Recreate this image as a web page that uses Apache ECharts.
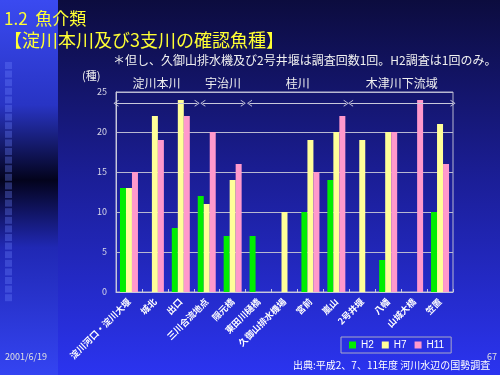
<!DOCTYPE html>
<html><head><meta charset="utf-8">
<script src="https://cdn.jsdelivr.net/npm/echarts@6/dist/echarts.min.js"></script>
<style>html,body{margin:0;padding:0;background:#1a1d92}#c{width:500px;height:375px}</style>
</head><body><div id="c"></div>
<script>
var categories = ['淀川河口・淀川大堰','城北','出口','三川合流地点','隠元橋','東田川樋橋','久御山排水機場','宮前','嵐山','2号井堰','八幡','山城大橋','笠置'];
var h2  = [13, null, 8, 12, 7, 7, null, 10, 14, null, 4, null, 10];
var h7  = [13, 22, 24, 11, 14, null, 10, 19, 20, 19, 20, null, 21];
var h11 = [15, 19, 22, 20, 16, null, null, 15, 22, null, 20, 24, 16];
var yTicks = [0, 5, 10, 15, 20, 25];
// river segment annotations (category units)
var segNames = ['淀川本川','宇治川','桂川','木津川下流域'];
var segStart = [0, 3.35, 5.15, 9.05];
var segEnd   = [3.13, 4.91, 8.88, 13];
var segLevel = 23.6;

var chart = echarts.init(document.getElementById('c'), null, {renderer:'canvas'});
var FONT = '"Noto Sans CJK JP", "Noto Sans", sans-serif';
var squares = [];
for (var i = 0; i < 28; i++) {
  squares.push({type:'rect', shape:{x:5, y:62 + i*8.6, width:7, height:7}, style:{fill:'rgba(110,130,255,0.33)'}, silent:true});
}
var chevron = 'path://M5,0 L10,10 L8.6,10 L5,2.6 L1.4,10 L0,10 Z';
var mlData = [];
for (var k = 0; k < segNames.length; k++) {
  mlData.push([{coord:[segStart[k], segLevel], name: segNames[k]}, {coord:[segEnd[k], segLevel]}]);
}
chart.setOption({
  animation:false,
  textStyle:{fontFamily:FONT},
  graphic:[
    {type:'rect', z:-10, shape:{x:0,y:0,width:500,height:375}, style:{fill:new echarts.graphic.LinearGradient(0,0,0,1,[{offset:0,color:'#0c0c3e'},{offset:0.45,color:'#1a1d92'},{offset:1,color:'#2b34f0'}])}, silent:true},
    {type:'rect', z:-9, shape:{x:0,y:0,width:58,height:375}, style:{fill:new echarts.graphic.LinearGradient(0,0,0,1,[{offset:0,color:'#3a4af0'},{offset:0.28,color:'#2834c4'},{offset:0.48,color:'#03031c'},{offset:0.66,color:'#2028b4'},{offset:1,color:'#3444f2'}])}, silent:true},
    {type:'group', z:-8, children: squares},
    {type:'text', left:4, top:10, style:{text:'1.2  魚介類', fill:'#ffff33', font:'17px '+FONT}},
    {type:'text', left:4, top:31, style:{text:'【淀川本川及び3支川の確認魚種】', fill:'#ffff33', font:'18px '+FONT}},
    {type:'text', left:113, top:54, style:{text:'＊但し、久御山排水機及び2号井堰は調査回数1回。H2調査は1回のみ。', fill:'#f0f0f0', font:'12px '+FONT}},
    {type:'text', left:82, top:70, style:{text:'(種)', fill:'#f0f0f0', font:'11px '+FONT}},
    {type:'text', left:293, top:360, style:{text:'出典:平成2、7、11年度 河川水辺の国勢調査', fill:'#ffffff', font:'10px '+FONT}},
    {type:'text', left:487, top:352, style:{text:'67', fill:'#e0e0e0', font:'9px '+FONT}},
    {type:'text', left:5, top:352, style:{text:'2001/6/19', fill:'#e0e0e0', font:'9px '+FONT}}
  ],
  grid:{left:116, right:47, top:92, bottom:83, show:true, borderColor:'#b8b8d0', borderWidth:1, backgroundColor:'transparent'},
  legend:{left:341, top:337, itemWidth:7, itemHeight:7, itemGap:8, padding:[3,7,3,8], borderColor:'#a8a8c8', borderWidth:1, icon:'rect',
    textStyle:{color:'#ffffff', fontSize:10, fontFamily:'"Liberation Sans", Arial, sans-serif'}, data:['H2','H7','H11']},
  xAxis:[{type:'category', data:categories,
    axisLine:{lineStyle:{color:'#c8c8dc'}},
    axisTick:{show:true, inside:true, length:3, lineStyle:{color:'#c8c8dc'}},
    axisLabel:{interval:0, rotate:45, color:'#ffffff', fontSize:9, fontWeight:'bold', margin:8, fontFamily:FONT}},
    {type:'value', min:0, max:13, show:false}],
  yAxis:{type:'value', min:yTicks[0], max:yTicks[yTicks.length-1], interval:5,
    axisLine:{show:true, lineStyle:{color:'#c8c8dc'}}, axisTick:{show:false},
    axisLabel:{color:'#d8d8e8', fontSize:9, margin:9},
    splitLine:{lineStyle:{color:'#b8b8d0', width:1}}},
  series:[
    {name:'H2', type:'bar', data:h2, barWidth:6, barGap:'0%', itemStyle:{color:'#00ee00'}},
    {name:'H7', type:'bar', data:h7, barWidth:6, barGap:'0%', itemStyle:{color:'#ffff99'}},
    {name:'H11', type:'bar', data:h11, barWidth:6, barGap:'0%', itemStyle:{color:'#ff99cc'}},
    {name:'seg', type:'line', xAxisIndex:1, data:[[0,null]], symbol:'none', silent:true,
      markLine:{silent:true, symbol:[chevron, chevron], symbolSize:[7,5],
        lineStyle:{color:'#c8c8dc', width:1, type:'solid'},
        label:{show:true, position:'middle', distance:14, color:'#f0f0f0', fontSize:12, fontFamily:FONT, formatter:function(p){return p.name;}},
        emphasis:{disabled:true},
        data:mlData}}
  ]
});
</script></body></html>
